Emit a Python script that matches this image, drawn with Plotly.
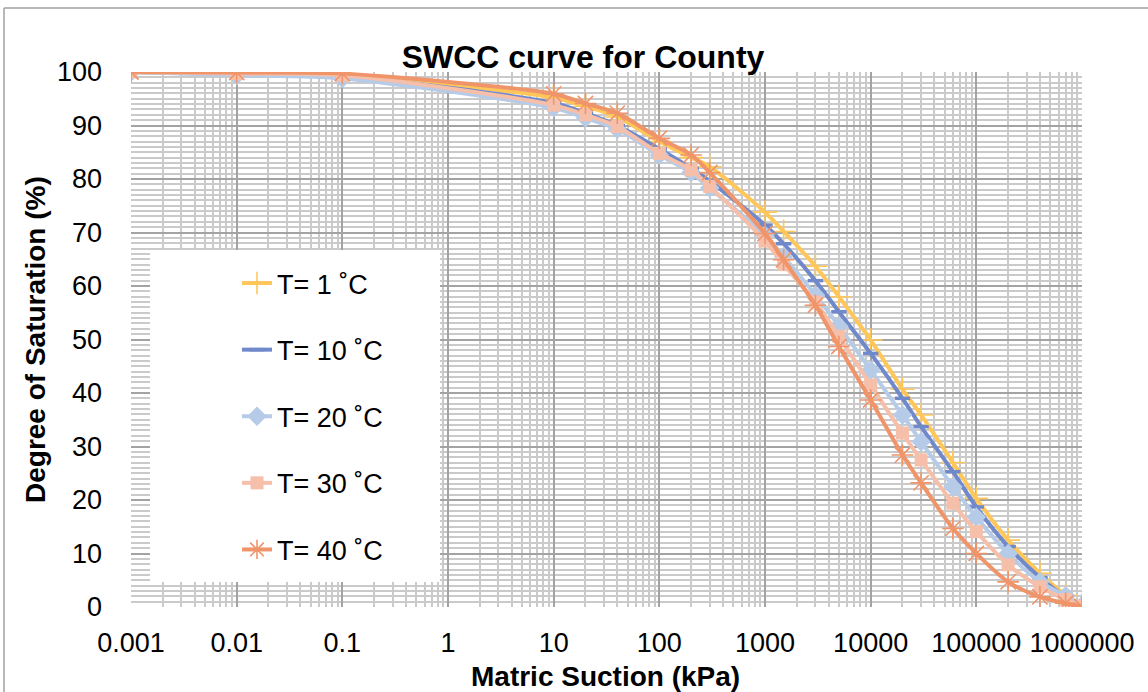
import plotly.graph_objects as go

# Matric suction (kPa) at which degree of saturation was evaluated
suction = [0.001, 0.01, 0.1, 10, 20, 40, 100, 200, 300, 1000, 1500, 3000, 5000,
           10000, 20000, 30000, 60000, 100000, 200000, 400000, 700000, 1000000]

# Degree of saturation (%) for each temperature
sat_t1 = [100, 99.8, 99.5, 95.2, 93.6, 91.6, 87.0, 84.0, 82.3, 73.8, 70.2, 63.7, 58.0,
          49.9, 40.7, 35.9, 27.0, 20.3, 12.5, 6.3, 2.2, 0.4]
sat_t10 = [100, 99.6, 99.2, 94.2, 92.3, 90.0, 85.6, 82.0, 79.6, 71.4, 67.9, 61.0, 55.2,
           47.4, 39.0, 33.7, 25.3, 18.7, 11.3, 5.5, 1.9, 0.3]
sat_t20 = [100, 99.4, 98.8, 93.3, 91.4, 89.3, 84.5, 81.2, 78.3, 69.5, 65.5, 58.3, 52.5,
           44.3, 35.9, 30.9, 22.5, 16.8, 10.0, 4.7, 2.1, 0.3]
sat_t30 = [100, 99.7, 99.4, 93.8, 92.0, 89.8, 84.8, 81.7, 78.6, 68.4, 64.0, 57.0, 50.6,
           41.5, 32.5, 27.5, 19.4, 14.1, 7.9, 3.8, 1.4, 0.2]
sat_t40 = [100, 99.9, 99.7, 95.9, 94.1, 92.3, 87.6, 84.5, 81.2, 69.8, 64.9, 56.4, 48.7,
           38.7, 28.4, 23.2, 14.7, 10.0, 4.7, 1.9, 0.7, 0.05]

series_names = ["T= 1 \u02daC", "T= 10 \u02daC", "T= 20 \u02daC", "T= 30 \u02daC", "T= 40 \u02daC"]

x_tickvals = [0.001, 0.01, 0.1, 1, 10, 100, 1000, 10000, 100000, 1000000]
x_ticktext = ["0.001", "0.01", "0.1", "1", "10", "100", "1000", "10000", "100000", "1000000"]
y_tickvals = [0, 10, 20, 30, 40, 50, 60, 70, 80, 90, 100]

styles = [
    dict(color="#FFC75A", symbol="cross-thin-open", size=17, lw=1.6),
    dict(color="#7089CB", symbol="line-ew-open", size=11, lw=3.5),
    dict(color="#B6CBE8", symbol="diamond", size=15, lw=0),
    dict(color="#F5BFAA", symbol="square", size=13, lw=0),
    dict(color="#F0946A", symbol="asterisk-open", size=18, lw=1.6),
]

W, H = 1148, 692
ML, MR, MT, MB = 131, 66, 72, 85
PW, PH = W - ML - MR, H - MT - MB


def px_x(p):
    return (p - ML) / PW


def px_y(p):
    return (H - MB - p) / PH


fig = go.Figure()
for name, ys, st in zip(series_names, [sat_t1, sat_t10, sat_t20, sat_t30, sat_t40], styles):
    fig.add_trace(go.Scatter(
        x=suction, y=ys, name=name, mode="lines+markers",
        line=dict(color=st["color"], width=4, shape="spline", smoothing=0.8),
        marker=dict(symbol=st["symbol"], size=st["size"], color=st["color"],
                    line=dict(color=st["color"], width=st["lw"])),
        legendgroup=name,
    ))

font_family = "Liberation Sans, Arial, sans-serif"
grid_major = "#A3A3A3"
grid_minor = "#CACACA"

fig.update_layout(
    width=W, height=H,
    margin=dict(l=ML, r=MR, t=MT, b=MB, autoexpand=False),
    paper_bgcolor="white", plot_bgcolor="white",
    font=dict(family=font_family, color="black"),
    title=dict(text="<b>SWCC curve for County</b>", x=583 / W, xanchor="center",
               y=1 - 57 / H, yanchor="middle",
               font=dict(size=32, family=font_family, color="black")),
    showlegend=True,
    legend=dict(x=px_x(237), xanchor="left", y=px_y(259), yanchor="top",
                bgcolor="rgba(0,0,0,0)", borderwidth=0, tracegroupgap=28.5,
                font=dict(size=27, family=font_family, color="black"),
                traceorder="grouped"),
    xaxis=dict(type="log", range=[-3, 6], tickmode="array", tickvals=x_tickvals,
               ticktext=x_ticktext, tickangle=0, showgrid=True, gridcolor=grid_major,
               gridwidth=1.5, zeroline=False, showline=False, ticks="",
               ticklabelstandoff=17, automargin=False,
               tickfont=dict(size=27, family=font_family, color="black"),
               minor=dict(showgrid=True, gridcolor=grid_minor, gridwidth=1.5,
                          dtick="D1", ticks="")),
    yaxis=dict(range=[0, 100], tickmode="array", tickvals=y_tickvals, showgrid=True,
               gridcolor=grid_major, gridwidth=1.5, zeroline=False, showline=False,
               ticks="", ticklabelstandoff=28, automargin=False,
               tickfont=dict(size=27, family=font_family, color="black"),
               minor=dict(showgrid=True, gridcolor=grid_minor, gridwidth=1.5,
                          dtick=1, ticks="")),
)

# Axis titles
fig.add_annotation(text="<b>Matric Suction (kPa)</b>", xref="paper", yref="paper",
                   x=px_x(605), y=px_y(676), xanchor="center", yanchor="middle",
                   showarrow=False, font=dict(size=28, family=font_family, color="black"))
fig.add_annotation(text="<b>Degree of Saturation (%)</b>", xref="paper", yref="paper",
                   x=px_x(35), y=px_y(340), xanchor="center", yanchor="middle",
                   textangle=-90, showarrow=False,
                   font=dict(size=28, family=font_family, color="black"))

# White legend panel sitting over the gridlines
fig.add_shape(type="rect", xref="paper", yref="paper",
              x0=px_x(150), x1=px_x(440), y0=px_y(582), y1=px_y(250),
              fillcolor="white", line=dict(width=0), layer="above")

# Outer chart border
fig.add_shape(type="line", xref="paper", yref="paper",
              x0=px_x(4), x1=px_x(4), y0=px_y(8), y1=px_y(700),
              line=dict(color="#A0A0A0", width=1.5))
fig.add_shape(type="line", xref="paper", yref="paper",
              x0=px_x(4), x1=px_x(1160), y0=px_y(8), y1=px_y(8),
              line=dict(color="#A0A0A0", width=1.5))

fig.write_html("out.html")
